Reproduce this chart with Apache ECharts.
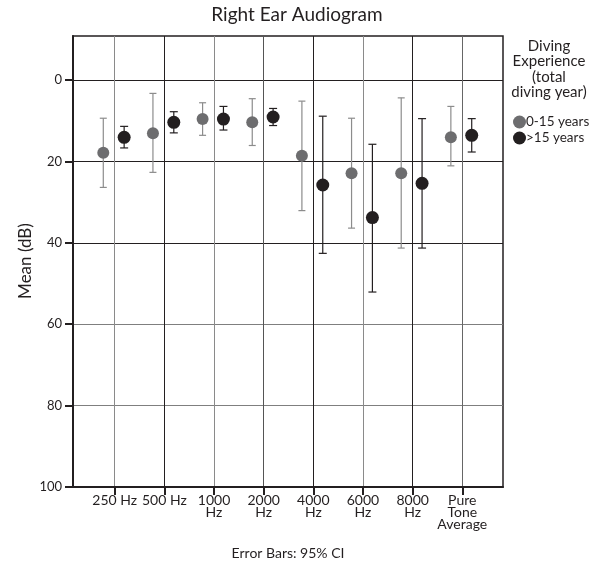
<!DOCTYPE html>
<html>
<head>
<meta charset="utf-8">
<script src="https://cdn.jsdelivr.net/npm/echarts@6/dist/echarts.min.js"></script>
<style>html,body{margin:0;padding:0;background:#fff}#c{width:594px;height:565px}</style>
</head>
<body>
<div id="c"></div>
<script>
const categories = ['250 Hz','500 Hz','1000\nHz','2000\nHz','4000\nHz','6000\nHz','8000\nHz','Pure\nTone\nAverage'];
const mean0_15 = [17.9, 13.1, 9.6, 10.4, 18.6, 22.9, 22.9, 14.1];
const low0_15 = [9.4, 3.3, 5.6, 4.6, 5.2, 9.4, 4.4, 6.5];
const high0_15 = [26.4, 22.7, 13.6, 16.1, 32.1, 36.4, 41.3, 21.1];
const meanOver15 = [14.1, 10.4, 9.6, 9.1, 25.8, 33.8, 25.4, 13.6];
const lowOver15 = [11.4, 7.8, 6.5, 7.0, 8.9, 15.8, 9.5, 9.5];
const highOver15 = [16.7, 13.0, 12.3, 11.2, 42.6, 52.1, 41.3, 17.7];
const yTicks = [0, 20, 40, 60, 80, 100];
const xTicks = [1, 2, 3, 4, 5, 6, 7, 8];
const seriesNames = ['0-15 years', '>15 years'];
const legendTitle = 'Diving\nExperience\n(total\ndiving year)';
const yName = 'Mean (dB)';

const FONT = 'Lato';
const TXT = '#231f20';
const offA = -0.23, offB = 0.19;
const grayMarker = '#6d6d6f', grayBar = '#8c8c8c', black = '#231f20';

function pts(mean, off) { return mean.map((v, i) => [i + 1 + off, v]); }
function errs(lo, hi, off) { return lo.map((v, i) => [i + 1 + off, v, hi[i]]); }

function errRender(color, cap) {
  return function (params, api) {
    const x = api.value(0);
    const a = api.coord([x, api.value(1)]);
    const b = api.coord([x, api.value(2)]);
    const st = { stroke: color, lineWidth: 1.2 };
    return { type: 'group', children: [
      { type: 'line', shape: { x1: a[0], y1: a[1], x2: b[0], y2: b[1] }, style: st },
      { type: 'line', shape: { x1: a[0] - cap, y1: a[1], x2: a[0] + cap, y2: a[1] }, style: st },
      { type: 'line', shape: { x1: b[0] - cap, y1: b[1], x2: b[0] + cap, y2: b[1] }, style: st }
    ]};
  };
}

const chart = echarts.init(document.getElementById('c'), null, { renderer: 'canvas' });
chart.setOption({
  animation: false,
  textStyle: { fontFamily: FONT },
  graphic: [
    { type: 'text', x: 297, y: 5, style: { text: 'Right Ear Audiogram', align: 'center', verticalAlign: 'top',
      font: '19px Lato', fill: TXT } },
    { type: 'text', x: 549, y: 38, style: { text: legendTitle, align: 'center', verticalAlign: 'top',
      font: '15px Lato', lineHeight: 15.5, fill: TXT } },
    { type: 'text', x: 26, y: 261, rotation: Math.PI / 2, style: { text: yName, align: 'center', verticalAlign: 'middle',
      font: '17px Lato', fill: TXT } }
  ],
  legend: {
    data: seriesNames, orient: 'vertical', left: 508, top: 110,
    icon: 'circle', itemWidth: 13, itemHeight: 13, itemGap: 2,
    textStyle: { fontFamily: FONT, fontSize: 13.5, color: TXT, padding: [0, 0, 0, -5] }
  },
  grid: { left: 73, right: 91, top: 36, bottom: 78, show: true, borderColor: TXT, borderWidth: 1.5, backgroundColor: '#fff' },
  xAxis: {
    type: 'value', min: 0.16, max: 8.82,
    name: 'Error Bars: 95% CI', nameLocation: 'middle', nameGap: 59,
    nameTextStyle: { fontFamily: FONT, fontSize: 14, color: TXT },
    axisLine: { show: true, onZero: false, lineStyle: { color: TXT, width: 2 } },
    axisTick: { show: true, customValues: xTicks, length: 8, inside: false, lineStyle: { color: TXT, width: 2 } },
    axisLabel: { customValues: xTicks, margin: 7, fontFamily: FONT, fontSize: 14, lineHeight: 12.3, color: TXT,
      formatter: v => categories[Math.round(v) - 1] || '' },
    splitLine: { show: true, lineStyle: { color: ['#8a8a8a', '#231f20', '#8a8a8a', '#555', '#231f20', '#8a8a8a', '#231f20', '#666'], width: 1 } }
  },
  yAxis: {
    type: 'value', inverse: true, min: -10.8, max: 100,
    axisLine: { show: true, onZero: false, lineStyle: { color: TXT, width: 2 } },
    axisTick: { show: true, customValues: yTicks, length: 8, lineStyle: { color: TXT, width: 2 } },
    axisLabel: { customValues: yTicks, margin: 11, fontFamily: FONT, fontSize: 13, color: TXT },
    splitLine: { show: true, lineStyle: { color: ['#231f20', '#231f20', '#231f20', '#7f7f7f', '#7f7f7f', '#231f20'], width: 1.2 } }
  },
  series: [
    { type: 'custom', name: 'err0', renderItem: errRender(grayBar, 3.5), data: errs(low0_15, high0_15, offA), z: 3, silent: true },
    { type: 'custom', name: 'err1', renderItem: errRender(black, 4), data: errs(lowOver15, highOver15, offB), z: 3, silent: true },
    { type: 'scatter', name: seriesNames[0], data: pts(mean0_15, offA), symbolSize: 12, itemStyle: { color: grayMarker, opacity: 1 }, z: 5 },
    { type: 'scatter', name: seriesNames[1], data: pts(meanOver15, offB), symbolSize: 13, itemStyle: { color: black, opacity: 1 }, z: 5 }
  ]
});
</script>
</body>
</html>
